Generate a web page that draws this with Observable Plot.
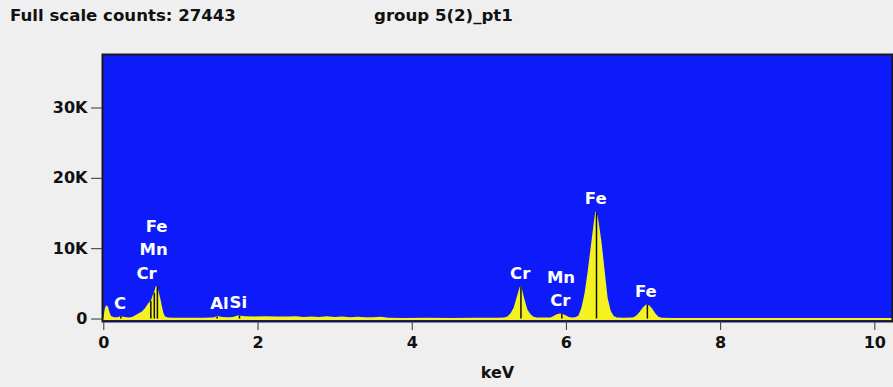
<!DOCTYPE html>
<html><head><meta charset="utf-8">
<script src="https://cdn.jsdelivr.net/npm/d3@7"></script>
<script src="https://cdn.jsdelivr.net/npm/@observablehq/plot@0.6"></script>
<style>
body{margin:0;background:#efefef;font-family:"DejaVu Sans",sans-serif;}
#wrap{width:893px;height:387px;position:relative;overflow:hidden;}
#title{height:30px;position:relative;font-weight:bold;font-size:16.6px;color:#111;}
#title span{position:absolute;top:6px;white-space:nowrap;}
#chart svg{display:block;}
</style></head><body>
<div id="wrap">
<div id="title"><span style="left:10px">Full scale counts: 27443</span><span style="left:374px">group 5(2)_pt1</span></div>
<div id="chart"></div>
</div>
<script>
// Spectrum (energy in keV, counts)
const keV = [0.00,0.02,0.04,0.06,0.08,0.10,0.14,0.18,0.22,0.26,0.30,0.34,0.38,0.42,0.46,0.50,0.54,0.58,0.60,0.62,0.64,0.66,0.68,0.70,0.72,0.74,0.76,0.78,0.80,0.84,0.90,1.00,1.10,1.20,1.30,1.40,1.44,1.48,1.52,1.60,1.68,1.74,1.78,1.84,1.95,2.10,2.25,2.40,2.50,2.60,2.70,2.80,2.90,3.00,3.10,3.20,3.30,3.40,3.50,3.60,3.70,3.90,4.20,4.50,4.80,5.10,5.20,5.24,5.28,5.32,5.36,5.40,5.42,5.46,5.50,5.54,5.58,5.62,5.70,5.80,5.84,5.88,5.92,5.96,6.00,6.04,6.08,6.12,6.16,6.20,6.24,6.28,6.32,6.36,6.38,6.40,6.42,6.46,6.50,6.54,6.58,6.62,6.66,6.75,6.85,6.88,6.92,6.96,7.00,7.04,7.08,7.12,7.16,7.20,7.24,7.40,7.80,8.50,9.20,10.00,10.23];
const counts = [0,1500,1900,1700,900,350,200,180,320,250,180,160,250,500,750,1000,1450,2150,2400,2600,3300,3800,4600,4650,3700,2800,1750,800,300,150,120,110,120,100,120,130,200,380,250,180,220,420,380,330,300,320,300,280,340,220,300,230,310,220,280,200,260,180,200,240,120,90,100,90,100,120,160,300,700,1500,3000,4500,4600,2800,1300,600,250,150,130,160,350,600,700,650,420,220,150,170,400,1500,3500,6500,10000,13500,15200,15000,14000,11000,7000,3000,1100,350,150,110,130,180,500,1000,1600,2000,1900,1400,700,250,110,90,80,70,60,60,60];

// Element line markers (keV)
const markerKeV = [0.22,0.61,0.655,0.695,1.47,1.76,5.41,5.94,6.39,7.05];

// Peak labels: text, label centre (keV), peak it sits above (keV), stack level
const labelText  = ["C","Cr","Mn","Fe","Al","Si","Cr","Cr","Mn","Fe","Fe"];
const labelKeV   = [0.21,0.554,0.645,0.684,1.50,1.745,5.40,5.92,5.93,6.38,7.03];
const labelPeak  = [0.22,0.70,0.70,0.70,1.48,1.74,5.42,5.92,5.92,6.38,7.04];
const labelLevel = [0,0,1,2,0,0,0,0,1,0,0];

const xTicks = [0,2,4,6,8,10];
const yTicks = [0,10000,20000,30000];

const BLUE = "#0d1bfb", YELLOW = "#f4f31f";

const spectrum = keV.map((k,i)=>({keV:k, counts:counts[i]}));
const interp = (e)=>{
  const i = d3.bisectRight(keV, e);
  if (i<=0) return counts[0];
  if (i>=keV.length) return counts[counts.length-1];
  const t = (e-keV[i-1])/(keV[i]-keV[i-1]);
  return counts[i-1] + t*(counts[i]-counts[i-1]);
};
const markers = markerKeV.map(e=>({keV:e, top:interp(e)}));
const labels = labelText.map((t,i)=>({text:t, keV:labelKeV[i], y:interp(labelPeak[i]), level:labelLevel[i]}));

const font = "'DejaVu Sans', sans-serif";
const plot = Plot.plot({
  width: 893, height: 357,
  marginLeft: 102, marginRight: 1, marginTop: 24, marginBottom: 66,
  x: {domain: [-0.017, 10.229]},
  y: {domain: [-350, 37600]},
  style: {background: "transparent", fontFamily: font, fontSize: "16px", fontWeight: "bold", color: "#111"},
  marks: [
    Plot.frame({fill: BLUE}),
    Plot.areaY(spectrum, {x:"keV", y:"counts", curve:"linear", fill: YELLOW}),
    Plot.ruleY([0], {stroke: YELLOW, strokeWidth: 2}),
    Plot.ruleX(markers, {x:"keV", y1:0, y2:"top", stroke:"#111", strokeWidth:1.5}),
    ...labels.map(l=>Plot.text([l], {x:"keV", y:"y", text:"text", dy: -13 - 23.5*l.level, lineAnchor:"middle", fill:"white", fontSize:16.5, fontWeight:"bold", fontFamily: font})),
    Plot.frame({stroke:"#1a1a1a", strokeWidth:2}),
    Plot.axisX({ticks: xTicks, tickSize: 9, tickPadding: 6, label: null, tickFormat: d=>String(d), stroke:"#333"}),
    Plot.axisY({ticks: yTicks, tickSize: 11, tickPadding: 4, label: null, tickFormat: d=> d===0 ? "0" : (d/1000)+"K", stroke:"#333"}),
    Plot.text(["keV"], {frameAnchor:"bottom", dy: 51, lineAnchor:"middle", fontSize:16, fontWeight:"bold", fill:"#111", fontFamily: font})
  ]
});
document.getElementById("chart").appendChild(plot);
</script>
</body></html>
